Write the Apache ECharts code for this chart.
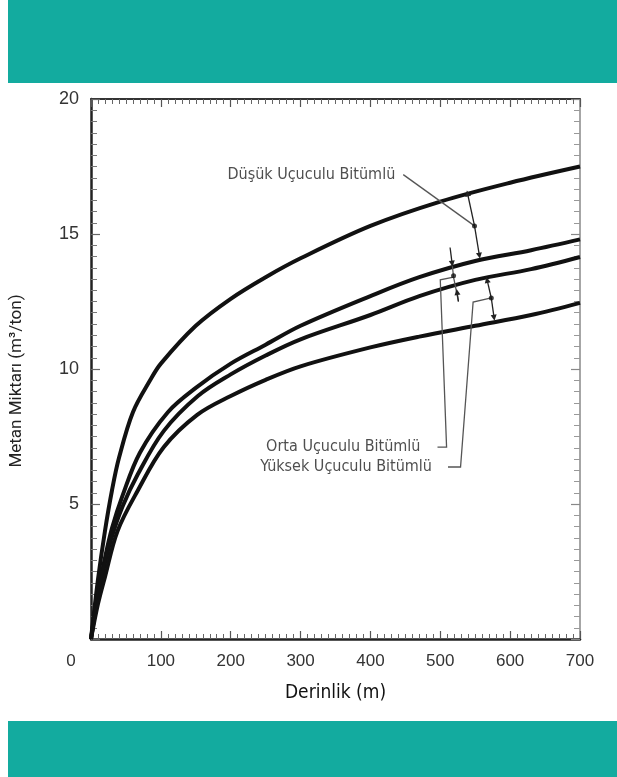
<!doctype html>
<html>
<head>
    <meta charset="utf-8">
    <title>Metan Miktarı - Derinlik</title>
    <script src="https://cdn.jsdelivr.net/npm/echarts@6/dist/echarts.min.js"></script>
    <style>
        html, body { margin: 0; padding: 0; background: #fff; }
        #main { width: 617px; height: 777px; }
    </style>
</head>
<body>
    <div id="main"></div>
<script type="text/javascript">
    // derinlik (m) - metan miktarı (m3/ton) okuma noktaları
    var egri1 = [[0,0],[10,2.2],[20,4.0],[30,5.5],[40,6.7],[60,8.4],[85,9.6],[100,10.2],[150,11.6],[200,12.6],[250,13.4],[300,14.1],[400,15.3],[500,16.2],[600,16.9],[700,17.5]];
    var egri2 = [[0,0],[10,1.7],[20,3.0],[30,4.1],[45,5.3],[70,6.9],[110,8.4],[150,9.3],[200,10.2],[250,10.9],[300,11.6],[400,12.7],[470,13.4],[550,14.0],[630,14.4],[700,14.8]];
    var egri3 = [[0,0],[10,1.6],[20,2.8],[30,3.8],[45,4.9],[67,6.1],[104,7.7],[153,9.0],[200,9.8],[250,10.5],[300,11.1],[400,12.0],[470,12.7],[550,13.3],[630,13.7],[700,14.15]];
    var egri4 = [[0,0],[10,1.3],[20,2.3],[38,4.0],[67,5.5],[104,7.1],[152,8.3],[200,9.0],[250,9.6],[300,10.1],[400,10.8],[470,11.2],[550,11.6],[630,12.0],[700,12.45]];

    var xTicks = [0, 100, 200, 300, 400, 500, 600, 700];
    var yTicks = [0, 5, 10, 15, 20];

    // açıklama etiketleri ve ok çizgileri (veri koordinatında)
    var etiketler = ['Düşük Uçuculu Bitümlü', 'Orta Uçuculu Bitümlü', 'Yüksek Uçuculu Bitümlü'];
    var etiketNokta = [[447, 17.2], [496, 7.11], [511, 6.37]];
    var etiketAralik = [8, 17, 16];
    var kilavuzCizgi = [
        [[447, 17.2], [549, 15.3]],
        [[519, 13.4], [500, 13.3], [509, 7.11], [496, 7.11]],
        [[573, 12.63], [547, 12.48], [529, 6.37], [511, 6.37]]
    ];
    var okCizgi = [
        [[549, 15.3], [539, 16.5]],
        [[549, 15.3], [556, 14.2]],
        [[514, 14.5], [517, 13.9]],
        [[526, 12.5], [524, 12.85]],
        [[573, 12.63], [567, 13.3]],
        [[573, 12.63], [577, 11.9]]
    ];
    var araCizgi = [
        [[517, 13.9], [519, 13.4], [526, 12.5]]
    ];
    var birlesim = [[549, 15.3], [519, 13.45], [573, 12.63]];

    var myChart = echarts.init(document.getElementById('main'));

    var egriStil = { color: '#111', width: 4 };
    function egri(ad, veri) {
        return {
            name: ad,
            type: 'line',
            data: veri,
            smooth: 0.35,
            symbol: 'none',
            lineStyle: egriStil,
            z: 3
        };
    }

    var condensed = 'Liberation Sans Narrow, DejaVu Sans Condensed, sans-serif';

    var option = {
        backgroundColor: '#fff',
        animation: false,
        graphic: [
            { type: 'rect', shape: { x: 8, y: 0, width: 609, height: 83 }, style: { fill: '#13ab9f' } },
            { type: 'rect', shape: { x: 8, y: 721, width: 609, height: 56 }, style: { fill: '#13ab9f' } }
        ],
        grid: { left: 90, right: 37, top: 99, bottom: 138 },
        xAxis: [{
            type: 'value',
            min: 0, max: 700, interval: 100,
            name: 'Derinlik (m)',
            nameLocation: 'middle',
            nameGap: 45,
            nameTextStyle: { fontFamily: condensed, fontSize: 19, color: '#111' },
            axisLine: { onZero: false, lineStyle: { color: '#222', width: 2.5 } },
            axisTick: { inside: true, length: 8, lineStyle: { color: '#555', width: 1.2 } },
            minorTick: { show: true, splitNumber: 10, length: 5, lineStyle: { color: '#666', width: 1 } },
            axisLabel: {
                margin: 14,
                fontFamily: 'Liberation Sans, Arial',
                fontSize: 17,
                color: '#333',
                formatter: function (v) { return v === 0 ? '{o|0}' : String(v); },
                rich: { o: { padding: [0, 40, 0, 0], fontFamily: 'Liberation Sans, Arial', fontSize: 17, color: '#333' } }
            },
            splitLine: { show: false }
        }, {
            type: 'value',
            position: 'top',
            min: 0, max: 700, interval: 100,
            axisLine: { onZero: false, lineStyle: { color: '#333', width: 2 } },
            axisTick: { inside: true, length: 8, lineStyle: { color: '#555', width: 1.2 } },
            minorTick: { show: true, splitNumber: 10, length: 5, lineStyle: { color: '#666', width: 1 } },
            axisLabel: { show: false },
            splitLine: { show: false }
        }],
        yAxis: [{
            type: 'value',
            min: 0, max: 20, interval: 5,
            name: 'Metan Miktarı (m³/ton)',
            nameLocation: 'middle',
            nameGap: 66,
            nameTextStyle: { fontFamily: 'Roboto', fontSize: 17, color: '#222', padding: [0, 24, 0, 0] },
            axisLine: { onZero: false, lineStyle: { color: '#222', width: 2.5 } },
            axisTick: { inside: true, length: 9, lineStyle: { color: '#666', width: 1.2 } },
            minorTick: { show: true, splitNumber: 12, length: 6, lineStyle: { color: '#777', width: 1 } },
            axisLabel: {
                margin: 12,
                fontFamily: 'Liberation Sans, Arial',
                fontSize: 18,
                color: '#333',
                formatter: function (v) { return v === 0 ? '' : String(v); }
            },
            splitLine: { show: false }
        }, {
            type: 'value',
            position: 'right',
            min: 0, max: 20, interval: 5,
            axisLine: { onZero: false, lineStyle: { color: '#888', width: 1.5 } },
            axisTick: { inside: true, length: 9, lineStyle: { color: '#888', width: 1.2 } },
            minorTick: { show: true, splitNumber: 12, length: 6, lineStyle: { color: '#999', width: 1 } },
            axisLabel: { show: false },
            splitLine: { show: false }
        }],
        series: [
            egri('Eğri 1', egri1),
            egri('Eğri 2', egri2),
            egri('Eğri 3', egri3),
            egri('Eğri 4', egri4),
            {
                name: 'kılavuz',
                type: 'lines',
                coordinateSystem: 'cartesian2d',
                polyline: true,
                symbol: 'none',
                lineStyle: { color: '#555', width: 1.3, opacity: 1 },
                data: kilavuzCizgi.concat(araCizgi).map(function (c) { return { coords: c }; }),
                z: 4
            },
            {
                name: 'oklar',
                type: 'lines',
                coordinateSystem: 'cartesian2d',
                symbol: ['none', 'triangle'],
                symbolSize: [0, 6],
                lineStyle: { color: '#222', width: 1.3, opacity: 1 },
                data: okCizgi.map(function (c) { return { coords: c }; }),
                z: 5
            },
            {
                name: 'noktalar',
                type: 'scatter',
                data: birlesim,
                symbolSize: 5,
                itemStyle: { color: '#111' },
                z: 5
            },
            {
                name: 'etiketler',
                type: 'scatter',
                data: etiketNokta.map(function (p, i) {
                    return { value: p, name: etiketler[i], label: { distance: etiketAralik[i] } };
                }),
                symbolSize: 0,
                label: {
                    show: true,
                    position: 'left',
                    formatter: '{b}',
                    fontFamily: condensed,
                    fontSize: 16,
                    color: '#222'
                },
                z: 6
            }
        ]
    };

    myChart.setOption(option);
</script>
</body>
</html>
